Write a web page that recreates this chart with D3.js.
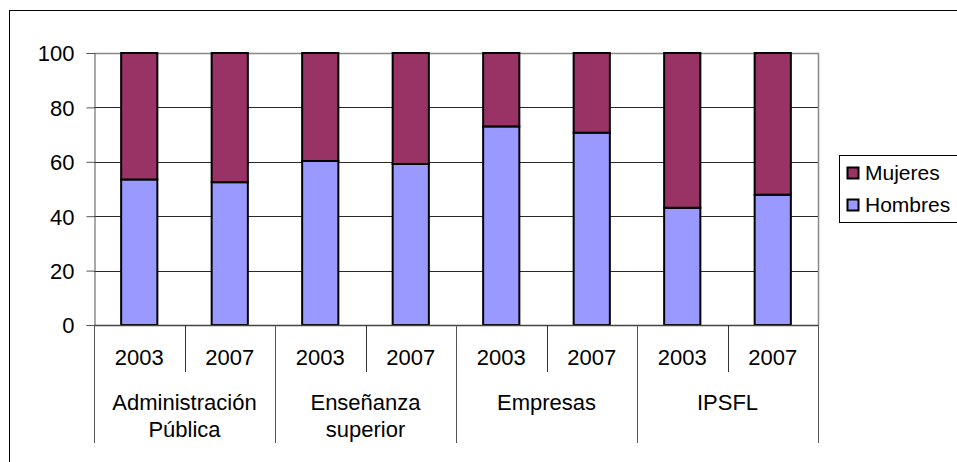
<!DOCTYPE html>
<html>
<head>
<meta charset="utf-8">
<script src="https://cdn.jsdelivr.net/npm/d3@7"></script>
<style>
  html, body { margin: 0; padding: 0; background: #fff; }
  svg text { font-family: Arial, "Liberation Sans", sans-serif; fill: #000; }
</style>
</head>
<body>
<svg id="chart" width="957" height="462"></svg>
<script>
// Sector groups (label lines) and the survey years within each group
const groupLabels = [["Administración", "Pública"], ["Enseñanza", "superior"], ["Empresas"], ["IPSFL"]];
const years = ["2003", "2007"];

// Percentage of staff by sex, in order: group × year
const hombres = [53.5, 52.5, 60.3, 59.2, 73.0, 70.7, 43.1, 47.9];
const mujeres = [46.5, 47.5, 39.7, 40.8, 27.0, 29.3, 56.9, 52.1];

const yTicks = [0, 20, 40, 60, 80, 100];
const seriesNames = ["Hombres", "Mujeres"];
const seriesColors = { Hombres: "#9999FF", Mujeres: "#993366" };

const svg = d3.select("#chart");
const plot = { left: 94, right: 818, top: 53, bottom: 325 };

// Outer chart border (extends past the canvas on the right and bottom)
svg.append("rect")
  .attr("x", 9.5).attr("y", 10.5)
  .attr("width", 1000).attr("height", 500)
  .attr("fill", "none").attr("stroke", "#000").attr("stroke-width", 1);

// One band per (group, year) pair
const keys = [];
groupLabels.forEach((g, gi) => years.forEach((yr, yi) => keys.push({ gi, yi, yr, idx: gi * years.length + yi })));

const x = d3.scaleBand()
  .domain(keys.map(k => k.idx))
  .range([plot.left, plot.right])
  .paddingInner(0.6).paddingOuter(0.3);

const y = d3.scaleLinear().domain([0, 100]).range([plot.bottom, plot.top]);

// Horizontal gridlines
svg.append("g")
  .selectAll("line")
  .data(yTicks.filter(t => t > 0 && t < 100))
  .join("line")
  .attr("x1", plot.left).attr("x2", plot.right)
  .attr("y1", d => Math.round(y(d)) + 0.5).attr("y2", d => Math.round(y(d)) + 0.5)
  .attr("stroke", "#2a2a2a").attr("stroke-width", 1);

// Plot area frame (top and right)
svg.append("path")
  .attr("d", `M${plot.left},${plot.top + 0.5}H${plot.right + 0.5}V${plot.bottom}`)
  .attr("fill", "none").attr("stroke", "#888").attr("stroke-width", 1.5);

// Stacked bars
const stackData = keys.map(k => ({ idx: k.idx, Hombres: hombres[k.idx], Mujeres: mujeres[k.idx] }));
const stacked = d3.stack().keys(seriesNames)(stackData);

svg.append("g")
  .selectAll("g")
  .data(stacked)
  .join("g")
  .attr("fill", d => seriesColors[d.key])
  .selectAll("rect")
  .data(d => d)
  .join("rect")
  .attr("x", d => x(d.data.idx))
  .attr("width", x.bandwidth())
  .attr("y", d => y(d[1]))
  .attr("height", d => y(d[0]) - y(d[1]))
  .attr("stroke", "#000").attr("stroke-width", 2);

// Y axis
const yAxis = svg.append("g")
  .attr("transform", `translate(${plot.left + 0.5},0)`)
  .call(d3.axisLeft(y).tickValues(yTicks).tickSize(8).tickPadding(12));
yAxis.select(".domain").attr("stroke", "#555").attr("stroke-width", 1);
yAxis.selectAll(".tick line").attr("stroke", "#555");
yAxis.selectAll(".tick text")
  .attr("font-size", 22)
  .attr("font-family", "Arial, 'Liberation Sans', sans-serif")
  .attr("dy", "0.36em");

// X axis baseline
svg.append("line")
  .attr("x1", plot.left).attr("x2", plot.right)
  .attr("y1", plot.bottom + 0.5).attr("y2", plot.bottom + 0.5)
  .attr("stroke", "#444").attr("stroke-width", 1.5);

// Category dividers below the axis: short between years, long between groups
const step = (plot.right - plot.left) / keys.length;
const dividers = d3.range(keys.length + 1).map(i => ({
  xPos: plot.left + i * step,
  long: i % years.length === 0
}));
svg.append("g")
  .selectAll("line")
  .data(dividers)
  .join("line")
  .attr("x1", d => Math.round(d.xPos) + 0.5).attr("x2", d => Math.round(d.xPos) + 0.5)
  .attr("y1", plot.bottom)
  .attr("y2", d => d.long ? 443 : 372)
  .attr("stroke", d => d.long ? "#555" : "#333").attr("stroke-width", 1);

// Year labels
svg.append("g")
  .selectAll("text")
  .data(keys)
  .join("text")
  .attr("x", d => x(d.idx) + x.bandwidth() / 2)
  .attr("y", 365)
  .attr("text-anchor", "middle")
  .attr("font-size", 22)
  .text(d => d.yr);

// Group labels (one or two lines)
const groupWidth = step * years.length;
svg.append("g")
  .selectAll("text")
  .data(groupLabels)
  .join("text")
  .attr("x", (d, i) => plot.left + groupWidth * i + groupWidth / 2)
  .attr("y", 409.5)
  .attr("text-anchor", "middle")
  .attr("font-size", 22)
  .selectAll("tspan")
  .data(d => d)
  .join("tspan")
  .attr("x", function () { return d3.select(this.parentNode).attr("x"); })
  .attr("dy", (d, i) => i === 0 ? 0 : 27)
  .text(d => d);

// Legend
const legend = svg.append("g");
legend.append("rect")
  .attr("x", 839.5).attr("y", 155.5)
  .attr("width", 130).attr("height", 67)
  .attr("fill", "#fff").attr("stroke", "#000").attr("stroke-width", 1);

const legendItems = ["Mujeres", "Hombres"];
const li = legend.selectAll("g.item")
  .data(legendItems)
  .join("g")
  .attr("class", "item")
  .attr("transform", (d, i) => `translate(0,${i * 32})`);
li.append("rect")
  .attr("x", 847.5).attr("y", 167.5)
  .attr("width", 11).attr("height", 11)
  .attr("fill", d => seriesColors[d])
  .attr("stroke", "#000").attr("stroke-width", 2);
li.append("text")
  .attr("x", 865).attr("y", 179.5)
  .attr("font-size", 21)
  .text(d => d);
</script>
</body>
</html>
